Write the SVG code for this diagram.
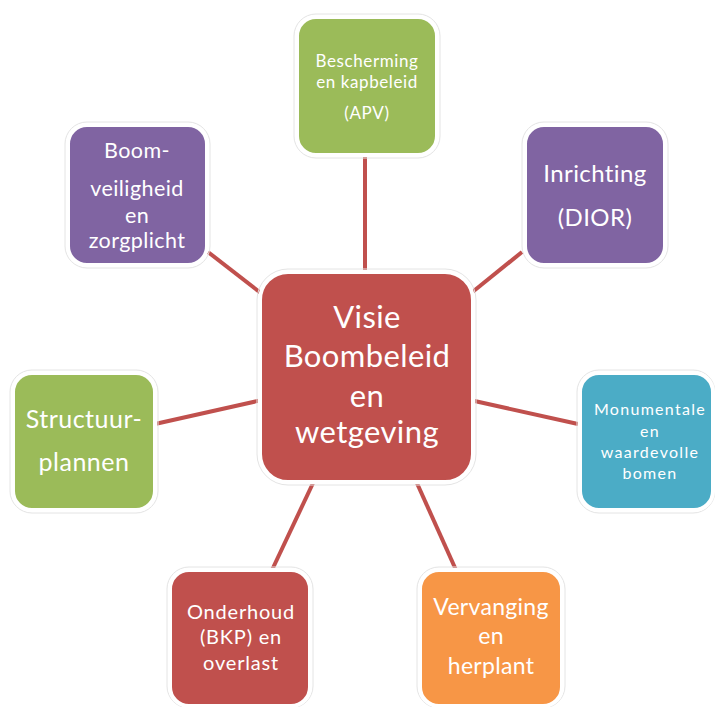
<svg xmlns="http://www.w3.org/2000/svg" width="715" height="707" viewBox="0 0 715 707">
<style>
.box{stroke:#ffffff;stroke-width:4}
.glow{fill:none;stroke:#e4e4e4;stroke-width:1}
.t{font-family:Lato,"Open Sans","Liberation Sans",sans-serif;fill:#ffffff;text-anchor:middle}
.conn line{stroke:#C0504D;stroke-width:4}
.red{fill:#C0504D}.green{fill:#9BBB59}.purple{fill:#8064A2}.blue{fill:#4BACC6}.orange{fill:#F79646}
</style>
<rect width="715" height="707" fill="#ffffff"/>
<g id="connectors" class="conn">
<line x1="365" y1="155" x2="365" y2="274"/>
<line x1="208" y1="252" x2="262" y2="294"/>
<line x1="155" y1="424" x2="262" y2="400"/>
<line x1="522" y1="252" x2="470" y2="294"/>
<line x1="470" y1="400" x2="578" y2="424"/>
<line x1="314" y1="481" x2="272" y2="570"/>
<line x1="416" y1="481" x2="456" y2="570"/>
</g>
<g id="center">
<rect class="glow" x="257" y="269" width="219" height="216" rx="31"/>
<rect class="box red" x="260" y="272" width="213" height="210" rx="28"/>
<text class="t" font-size="31" letter-spacing="0.4"><tspan x="367" y="328">Visie</tspan><tspan x="367" y="367">Boombeleid</tspan><tspan x="367" y="407">en</tspan><tspan x="367" y="443">wetgeving</tspan></text>
</g>
<g id="node-apv">
<rect class="glow" x="294" y="14" width="146" height="144" rx="22"/>
<rect class="box green" x="297" y="17" width="140" height="138" rx="19"/>
<text class="t" font-size="17" letter-spacing="0.6"><tspan x="367" y="67">Bescherming</tspan><tspan x="367" y="88">en kapbeleid</tspan><tspan x="367" y="119">(APV)</tspan></text>
</g>
<g id="node-inrichting">
<rect class="glow" x="522" y="122" width="146" height="146" rx="22"/>
<rect class="box purple" x="525" y="125" width="140" height="140" rx="19"/>
<text class="t" font-size="24" letter-spacing="0.4"><tspan x="595" y="182">Inrichting</tspan><tspan x="595" y="226">(DIOR)</tspan></text>
</g>
<g id="node-boom">
<rect class="glow" x="65" y="122" width="145" height="146" rx="22"/>
<rect class="box purple" x="68" y="125" width="139" height="140" rx="19"/>
<text class="t" font-size="21.5" letter-spacing="0.4"><tspan x="137" y="158">Boom-</tspan><tspan x="137" y="196">veiligheid</tspan><tspan x="137" y="223">en</tspan><tspan x="137" y="248">zorgplicht</tspan></text>
</g>
<g id="node-structuur">
<rect class="glow" x="10" y="370" width="148" height="143" rx="22"/>
<rect class="box green" x="13" y="373" width="142" height="137" rx="19"/>
<text class="t" font-size="25" letter-spacing="0.5"><tspan x="84" y="428">Structuur-</tspan><tspan x="84" y="471">plannen</tspan></text>
</g>
<g id="node-monumentale">
<rect class="glow" x="577" y="370" width="138" height="143" rx="22"/>
<rect class="box blue" x="580" y="373" width="133" height="137" rx="19"/>
<text class="t" font-size="16" letter-spacing="1.3"><tspan x="650" y="415">Monumentale</tspan><tspan x="650" y="437">en</tspan><tspan x="650" y="458">waardevolle</tspan><tspan x="650" y="479">bomen</tspan></text>
</g>
<g id="node-onderhoud">
<rect class="glow" x="167" y="567" width="146" height="141" rx="22"/>
<rect class="box red" x="170" y="570" width="140" height="136" rx="19"/>
<text class="t" font-size="20" letter-spacing="0.8"><tspan x="241" y="619">Onderhoud</tspan><tspan x="241" y="644">(BKP) en</tspan><tspan x="241" y="670">overlast</tspan></text>
</g>
<g id="node-vervanging">
<rect class="glow" x="417" y="567" width="148" height="141" rx="22"/>
<rect class="box orange" x="420" y="570" width="142" height="136" rx="19"/>
<text class="t" font-size="23" letter-spacing="0.3"><tspan x="491" y="615">Vervanging</tspan><tspan x="491" y="644">en</tspan><tspan x="491" y="674">herplant</tspan></text>
</g>
</svg>
